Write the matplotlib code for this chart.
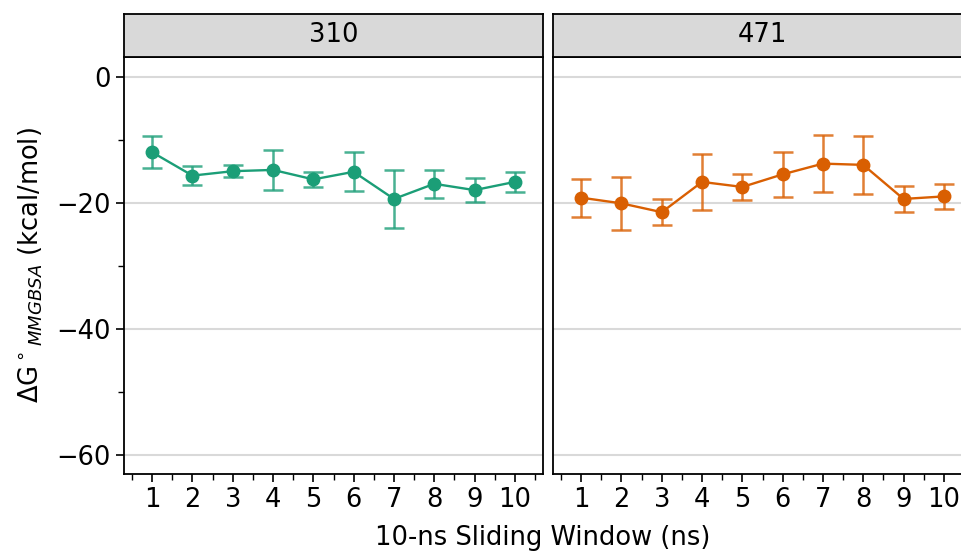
import matplotlib
matplotlib.use("Agg")
import matplotlib.pyplot as plt
from matplotlib.ticker import MultipleLocator

windows = [1, 2, 3, 4, 5, 6, 7, 8, 9, 10]
panels = ["310", "471"]
colors = ["#1b9e77", "#d95f02"]

mean_310 = [-12.0, -15.7, -15.0, -14.8, -16.3, -15.1, -19.4, -17.0, -18.0, -16.7]
sd_310 = [2.5, 1.5, 1.0, 3.2, 1.2, 3.1, 4.6, 2.2, 1.9, 1.6]
mean_471 = [-19.2, -20.1, -21.5, -16.7, -17.5, -15.5, -13.8, -14.0, -19.4, -19.0]
sd_471 = [3.0, 4.2, 2.1, 4.4, 2.05, 3.6, 4.5, 4.6, 2.0, 2.0]

means = [mean_310, mean_471]
sds = [sd_310, sd_471]

W, H = 961, 552
fig = plt.figure(figsize=(W / 100, H / 100), dpi=100)

def px(x0, y0, x1, y1):
    return [x0 / W, 1 - y1 / H, (x1 - x0) / W, (y1 - y0) / H]

lefts = [124, 553]
pw = 419
top, bottom, strip_top = 57, 474, 14
fs = 18.5

for i, name in enumerate(panels):
    ax = fig.add_axes(px(lefts[i], top, lefts[i] + pw, bottom))
    ax.errorbar(windows, means[i], yerr=sds[i], fmt="none", ecolor=colors[i],
                alpha=0.8, elinewidth=1.8, capsize=7, capthick=1.8, zorder=3)
    ax.plot(windows, means[i], color=colors[i], marker="o", markersize=9,
            linewidth=1.7, zorder=4)
    ax.set_xlim(0.3, 10.7)
    ax.set_ylim(-63.0, 3.1)
    ax.xaxis.set_major_locator(MultipleLocator(1))
    ax.xaxis.set_minor_locator(MultipleLocator(0.5))
    ax.yaxis.set_major_locator(MultipleLocator(20))
    ax.yaxis.set_minor_locator(MultipleLocator(10))
    ax.grid(axis="y", which="major", color="#d9d9d9", linewidth=1.5, zorder=0)
    ax.tick_params(axis="both", which="major", labelsize=fs, length=6, width=1.2)
    ax.tick_params(axis="both", which="minor", length=4, width=1.0)
    for s in ax.spines.values():
        s.set_linewidth(1.3)
    if i == 0:
        ax.set_ylabel(r"$\Delta$G$^\circ{}_{MMGBSA}$ (kcal/mol)", fontsize=fs,
                      labelpad=8)
    else:
        ax.tick_params(axis="y", which="both", left=False, labelleft=False)

    sax = fig.add_axes(px(lefts[i], strip_top, lefts[i] + pw, top))
    sax.set_xticks([])
    sax.set_yticks([])
    sax.set_facecolor("#d9d9d9")
    for s in sax.spines.values():
        s.set_linewidth(1.3)
    sax.text(0.5, 0.5, name, ha="center", va="center", fontsize=fs,
             transform=sax.transAxes)

fig.text(0.565, 0.025, "10-ns Sliding Window (ns)", ha="center", va="center",
         fontsize=fs)

fig.savefig("out.png", dpi=100)
